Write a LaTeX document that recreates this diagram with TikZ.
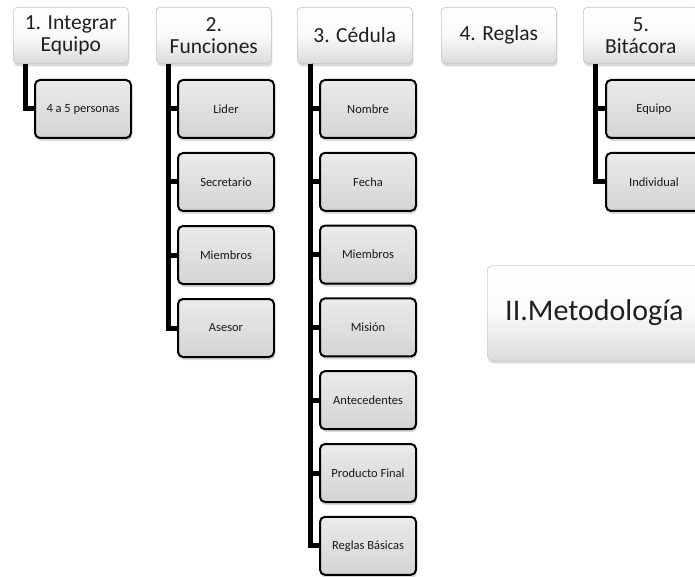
\documentclass[tikz,border=0pt]{standalone}
\usepackage{fontspec}
\setmainfont{Carlito}
\usetikzlibrary{shadows}
\begin{document}
\begin{tikzpicture}[x=1pt,y=-1pt,
  topbox/.style={draw=gray!45, line width=0.6pt, rounded corners=4pt,
    top color=white, bottom color=gray!28, middle color=white!96!gray,
    minimum width=115pt, minimum height=56pt, inner sep=0pt, align=center,
    font=\fontsize{21.5}{22}\selectfont, text=black!88, anchor=north west,
    drop shadow={opacity=0.3, shadow xshift=1pt, shadow yshift=-3pt}},
  subbox/.style={draw=black, line width=2pt, rounded corners=5pt,
    top color=gray!16, bottom color=gray!34,
    minimum width=96pt, minimum height=58pt, inner sep=0pt, align=center,
    font=\fontsize{12.5}{14}\selectfont, text=black!90, anchor=north west,
    drop shadow={opacity=0.3, shadow xshift=1pt, shadow yshift=-3pt}},
  bigbox/.style={draw=gray!40, line width=0.6pt, rounded corners=6pt,
    top color=white, bottom color=gray!28, middle color=white!96!gray,
    minimum width=240pt, minimum height=95pt, inner sep=0pt,
    anchor=north west,
    drop shadow={opacity=0.3, shadow xshift=1pt, shadow yshift=-3pt}},
  conn/.style={line width=5pt, draw=black}]
\useasboundingbox (0,0) rectangle (695,577);
\clip (0,0) rectangle (695,577);
% top level
\node[topbox] (p1) at (13,7) {1. Integrar\\Equipo};
\node[topbox] (p2) at (156,7) {2.\\Funciones};
\node[topbox] (p3) at (297,7) {3. Cédula};
\node[topbox] (p4) at (441,7) {4. Reglas};
\node[topbox] (p5) at (583,7) {5.\\Bitácora};
% children 1
\node[subbox] (c11) at (34,79) {4 a 5 personas};
% children 2
\node[subbox] (c21) at (177,79) {Lider};
\node[subbox] (c22) at (177,152) {Secretario};
\node[subbox] (c23) at (177,225) {Miembros};
\node[subbox] (c24) at (177,298) {Asesor};
% children 3
\node[subbox] (c31) at (319,79) {Nombre};
\node[subbox] (c32) at (319,151.8) {Fecha};
\node[subbox] (c33) at (319,224.6) {Miembros};
\node[subbox] (c34) at (319,297.4) {Misión};
\node[subbox] (c35) at (319,370.2) {Antecedentes};
\node[subbox] (c36) at (319,443) {Producto Final};
\node[subbox] (c37) at (319,515.8) {Reglas Básicas};
% children 5
\node[subbox] (c51) at (605,79) {Equipo};
\node[subbox] (c52) at (605,152) {Individual};
% title
\node[bigbox] (m) at (487,265) {};
\node[font=\fontsize{30}{34}\selectfont, text=black!88, anchor=west, inner sep=0pt] (mt) at ([xshift=18pt]m.west) {II.Metodología};
% connectors
\draw[conn] ([xshift=12pt]p1.south west) |- (c11.west);
\foreach \c in {c21,c22,c23,c24}
  \draw[conn] ([xshift=12pt]p2.south west) |- (\c.west);
\foreach \c in {c31,c32,c33,c34,c35,c36,c37}
  \draw[conn] ([xshift=13pt]p3.south west) |- (\c.west);
\foreach \c in {c51,c52}
  \draw[conn] ([xshift=12pt]p5.south west) |- (\c.west);
\end{tikzpicture}
\end{document}
